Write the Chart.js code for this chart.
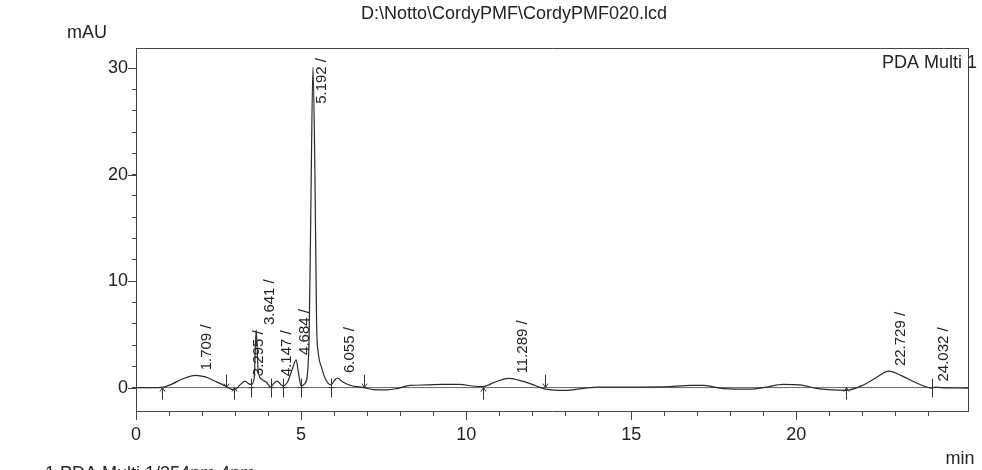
<!DOCTYPE html>
<html>
<head>
<meta charset="utf-8">
<script src="https://cdn.jsdelivr.net/npm/chart.js@4/dist/chart.umd.min.js"></script>
<style>
  body { margin: 0; background: #fff; }
  #wrap { width: 982px; height: 470px; position: relative; }
</style>
</head>
<body>
<div id="wrap"><canvas id="chrom"></canvas></div>
<script>
// retention time (min) and detector signal (mAU)
const time = [0.0, 0.5, 0.8, 1.1, 1.4, 1.8, 2.1, 2.4, 2.74, 2.88, 3.0, 3.15, 3.3, 3.42, 3.5, 3.58, 3.64, 3.7, 3.8, 3.95,
  4.08, 4.18, 4.28, 4.38, 4.46, 4.6, 4.74, 4.85, 4.92, 5.0, 5.12, 5.24, 5.3, 5.36, 5.42, 5.47, 5.52, 5.62, 5.74, 5.9,
  6.02, 6.1, 6.25, 6.5, 6.9, 7.2, 7.6, 7.9, 8.3, 8.8, 9.3, 9.8, 10.2, 10.5, 10.9, 11.3, 11.7, 12.0, 12.4, 13.0,
  13.5, 14.0, 15.0, 16.0, 16.8, 17.2, 17.8, 18.6, 19.1, 19.6, 20.1, 20.7, 21.5, 22.0, 22.4, 22.8, 23.2, 23.6, 23.9, 24.1,
  24.2, 24.4, 25.2];
const signal = [0.0, 0.0, 0.02, 0.35, 0.8, 1.15, 1.0, 0.6, 0.1, -0.15, -0.2, 0.25, 0.6, 0.35, 0.3, 0.9, 5.4, 1.6, 0.8, 0.5,
  0.05, 0.4, 0.6, 0.3, 0.15, 0.6, 1.8, 2.6, 1.4, 0.15, 0.4, 4, 18, 30.1, 20, 6, 3.3, 1.9, 0.8, 0.25,
  0.7, 0.9, 0.55, 0.2, 0.0, -0.2, -0.22, -0.1, 0.2, 0.25, 0.3, 0.3, 0.15, 0.1, 0.55, 0.86, 0.6, 0.3, -0.15, -0.27,
  -0.1, 0.05, 0.05, 0.06, 0.2, 0.2, -0.1, -0.15, 0.05, 0.3, 0.25, -0.13, -0.26, 0.2, 0.9, 1.55, 1.1, 0.5, 0.1, -0.05,
  0.05, 0.0, -0.05];

// integration baseline
const baseTime = [0, 25.2];
const baseSignal = [0, 0];

// peak labels (retention times printed on the chart)
const peakTimes = ["1.709", "3.295", "3.641", "4.147", "4.684", "5.192", "6.055", "11.289", "22.729", "24.032"];

// integration marks: time and kind (s = start, e = end, v = valley)
const markTimes = [0.8, 2.74, 2.98, 3.48, 4.08, 4.46, 5.0, 5.9, 6.9, 10.5, 12.4, 21.5, 24.1];
const markKinds = ["s", "e", "s", "v", "v", "v", "v", "v", "e", "s", "e", "s", "v"];

// axis ticks
const xTicks = [0, 1, 2, 3, 4, 5, 6, 7, 8, 9, 10, 11, 12, 13, 14, 15, 16, 17, 18, 19, 20, 21, 22, 23, 24];
const xLabels = [0, 5, 10, 15, 20];
const yTicks = [0, 2, 4, 6, 8, 10, 12, 14, 16, 18, 20, 22, 24, 26, 28, 30];
const yLabels = [0, 10, 20, 30];

const FONT = "'Liberation Sans', Arial, sans-serif";
const INK = "#222";

const decor = {
    id: "decor",
    afterDraw(chart) {
        const ctx = chart.ctx;
        const a = chart.chartArea;
        const x = chart.scales.x, y = chart.scales.y;
        const line = (x1, y1, x2, y2) => { ctx.beginPath(); ctx.moveTo(x1, y1); ctx.lineTo(x2, y2); ctx.stroke(); };
        ctx.save();
        ctx.strokeStyle = "#444";
        ctx.lineWidth = 1;
        // top and right of the frame
        line(a.left, a.top + 0.5, a.right + 0.5, a.top + 0.5);
        line(a.right + 0.5, a.top, a.right + 0.5, a.bottom);
        // longer major ticks
        xLabels.forEach(v => {
            const px = Math.round(x.getPixelForValue(v)) + 0.5;
            line(px, a.bottom, px, a.bottom + 9);
        });
        yLabels.forEach(v => {
            const py = Math.round(y.getPixelForValue(v)) + 0.5;
            line(a.left - 8, py, a.left, py);
        });

        // integration marks
        const y0 = y.getPixelForValue(0);
        ctx.strokeStyle = "#333";
        markTimes.forEach((t, i) => {
            const px = Math.round(x.getPixelForValue(t)) + 0.5;
            const k = markKinds[i];
            if (k === "s") {
                line(px, y0 + 12, px, y0);
                line(px - 2.5, y0 + 4, px, y0);
                line(px + 2.5, y0 + 4, px, y0);
            } else if (k === "e") {
                line(px, y0 - 13, px, y0);
                line(px - 2.5, y0 - 4, px, y0);
                line(px + 2.5, y0 - 4, px, y0);
            } else {
                line(px, y0 - 9, px, y0 + 10);
                line(px - 3, y0, px + 3, y0);
            }
        });

        // peak labels, rotated, sitting just above each peak top
        ctx.fillStyle = INK;
        ctx.font = "15px " + FONT;
        peakTimes.forEach(s => {
            const rt = parseFloat(s);
            let top = -Infinity;
            time.forEach((t, i) => { if (Math.abs(t - rt) <= 0.2 && signal[i] > top) top = signal[i]; });
            const text = s + " /";
            const w = ctx.measureText(text).width;
            const bottom = Math.max(y.getPixelForValue(top) - 5, a.top + 10 + w);
            ctx.save();
            ctx.translate(x.getPixelForValue(rt) + 14, bottom);
            ctx.rotate(-Math.PI / 2);
            ctx.textAlign = "left";
            ctx.textBaseline = "middle";
            ctx.fillText(text, 0, 0);
            ctx.restore();
        });

        // titles and captions
        ctx.font = "18px " + FONT;
        ctx.textBaseline = "middle";
        ctx.textAlign = "center";
        ctx.fillText("D:\\Notto\\CordyPMF\\CordyPMF020.lcd", 514, 14);
        ctx.fillText("mAU", 87, 33);
        ctx.fillText("min", 960, 459);
        ctx.textAlign = "right";
        ctx.fillText("PDA Multi 1", 977, 63);
        ctx.textAlign = "left";
        ctx.textBaseline = "top";
        ctx.fillText("1 PDA Multi 1/254nm 4nm", 45, 465);
        ctx.restore();
    }
};

document.addEventListener("DOMContentLoaded", () => {
    const ctx = document.getElementById("chrom").getContext("2d");
    new Chart(ctx, {
        type: "line",
        data: {
            datasets: [{
                data: time.map((t, i) => ({ x: t, y: signal[i] })),
                borderColor: "#2a2a2a",
                borderWidth: 1.2,
                pointRadius: 0,
                cubicInterpolationMode: "monotone",
            }, {
                data: baseTime.map((t, i) => ({ x: t, y: baseSignal[i] })),
                borderColor: "#666",
                borderWidth: 1,
                pointRadius: 0,
            }],
        },
        options: {
            responsive: true,
            maintainAspectRatio: false,
            animation: false,
            layout: { padding: { left: 0, top: 48, right: 14, bottom: 0 } },
            plugins: { legend: { display: false }, tooltip: { enabled: false } },
            scales: {
                x: {
                    type: "linear",
                    min: 0,
                    max: 25.2,
                    afterFit: s => { s.height = 59; },
                    afterBuildTicks: s => { s.ticks = xTicks.map(v => ({ value: v })); },
                    grid: { drawOnChartArea: false, tickLength: 5, tickColor: "#444" },
                    border: { color: "#444", width: 1 },
                    ticks: {
                        autoSkip: false,
                        maxRotation: 0,
                        padding: 8,
                        color: INK,
                        font: { family: FONT, size: 18 },
                        callback: v => xLabels.includes(v) ? String(v) : "",
                    },
                },
                y: {
                    min: -2.2,
                    max: 31.9,
                    afterFit: s => { s.width = 136; },
                    afterBuildTicks: s => { s.ticks = yTicks.map(v => ({ value: v })); },
                    grid: { drawOnChartArea: false, tickLength: 4, tickColor: "#444" },
                    border: { color: "#444", width: 1 },
                    ticks: {
                        autoSkip: false,
                        padding: 4,
                        color: INK,
                        font: { family: FONT, size: 18 },
                        callback: v => yLabels.includes(v) ? String(v) : "",
                    },
                },
            },
        },
        plugins: [decor],
    });
});
</script>
</body>
</html>
